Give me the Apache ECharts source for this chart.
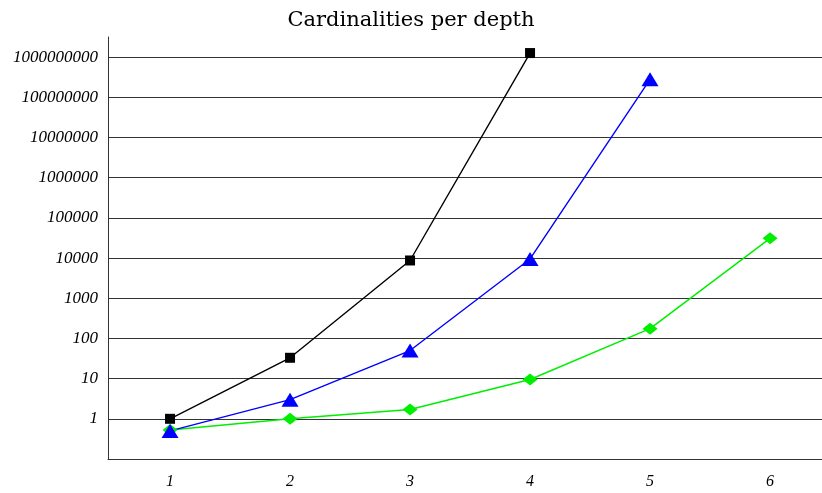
<!DOCTYPE html>
<html>
<head>
<meta charset="utf-8">
<script src="https://cdn.jsdelivr.net/npm/echarts@6/dist/echarts.min.js"></script>
<style>
  html, body { margin: 0; padding: 0; background: #fff; }
  #chart { width: 822px; height: 493px; }
</style>
</head>
<body>
<div id="chart"></div>
<script>
// depths and cardinalities per series
var depths = [1, 2, 3, 4, 5, 6];
var blackValues = [1, 33, 8700, 1.26e9];
var blueValues = [0.5, 3, 50, 9500, 2.8e8];
var greenValues = [0.53, 1, 1.7, 9.5, 175, 31000];

function pairs(vals) {
  return vals.map(function (v, i) { return [depths[i], v]; });
}

var labelFont = { fontFamily: 'Liberation Serif', fontStyle: 'italic', fontSize: 17, color: '#000' };

var myChart = echarts.init(document.getElementById('chart'));
myChart.setOption({
  backgroundColor: '#fff',
  animation: false,
  title: {
    text: 'Cardinalities per depth',
    left: 'center',
    top: 5,
    textStyle: { fontFamily: 'DejaVu Serif', fontWeight: 'normal', fontSize: 21, color: '#000' }
  },
  grid: { left: 108, right: 0, top: 37, bottom: 34 },
  xAxis: {
    type: 'value',
    min: 0.483,
    max: 6.433,
    axisLine: { show: true, lineStyle: { color: '#333', width: 1 } },
    axisTick: { show: false },
    splitLine: { show: false },
    axisLabel: Object.assign({ margin: 15, customValues: depths }, labelFont, { fontSize: 16 })
  },
  yAxis: {
    type: 'log',
    logBase: 10,
    min: 0.1,
    max: 3.1623e9,
    interval: 1,
    axisLine: { show: true, lineStyle: { color: '#333', width: 1 } },
    axisTick: { show: false },
    splitLine: { show: true, showMinLine: false, showMaxLine: false, lineStyle: { color: '#333', width: 1 } },
    axisLabel: Object.assign({ margin: 10, showMinLabel: false, showMaxLabel: false,
      formatter: function (v) { return v >= 1 ? String(Math.round(v)) : ''; } }, labelFont)
  },
  series: [
    {
      type: 'line', data: pairs(greenValues),
      symbol: 'diamond', symbolSize: [15, 12],
      lineStyle: { color: '#00ee00', width: 1.5 },
      itemStyle: { color: '#00ee00' }
    },
    {
      type: 'line', data: pairs(blueValues),
      symbol: 'triangle', symbolSize: [17, 14],
      lineStyle: { color: '#0000ff', width: 1.4 },
      itemStyle: { color: '#0000ff' }
    },
    {
      type: 'line', data: pairs(blackValues),
      symbol: 'rect', symbolSize: 10,
      lineStyle: { color: '#000', width: 1.4 },
      itemStyle: { color: '#000' }
    }
  ]
}, true);
</script>
</body>
</html>
